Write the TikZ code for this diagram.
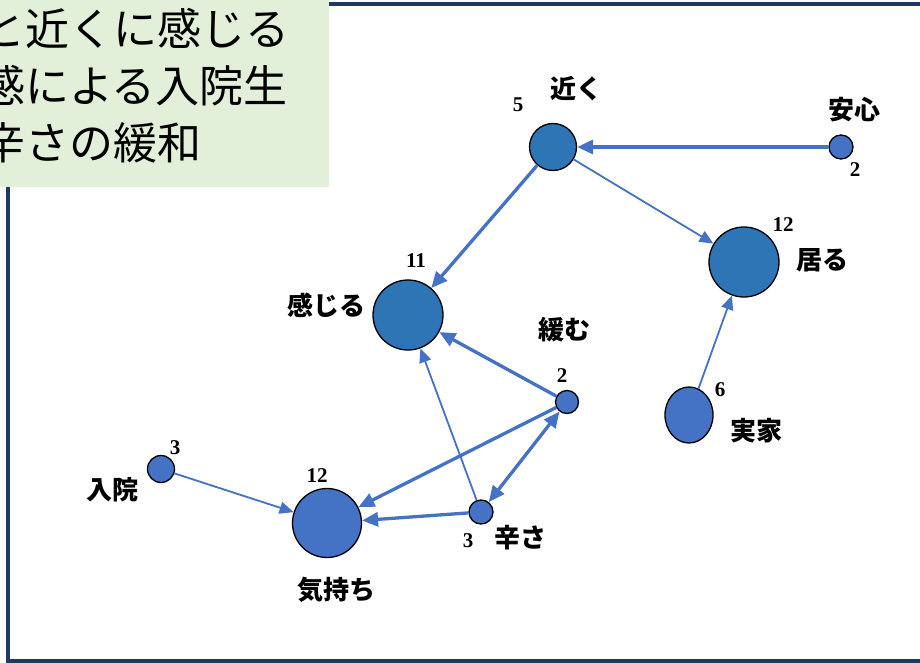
\documentclass[tikz,border=0pt]{standalone}
\usepackage{fontspec}
\setmainfont{Liberation Serif}
\newfontfamily\jp{Noto Sans CJK JP}
\usetikzlibrary{arrows.meta,shapes.geometric}
\definecolor{edgeblue}{HTML}{4472C4}
\definecolor{darkblue}{HTML}{2E75B6}
\definecolor{lightblue}{HTML}{4472C4}
\definecolor{boxgreen}{HTML}{E2EFD9}
\definecolor{framenavy}{HTML}{203864}
\begin{document}
\begin{tikzpicture}[x=1pt,y=-1pt,
  vnode/.style={circle, draw=black, line width=1.3pt, inner sep=0pt},
  bignode/.style={vnode, fill=darkblue, minimum size=70pt},
  midnode/.style={vnode, fill=darkblue, minimum size=47pt},
  bigl/.style={vnode, fill=lightblue, minimum size=69pt},
  smallnode/.style={vnode, fill=lightblue, minimum size=24pt},
  lbl/.style={font=\jp\bfseries\fontsize{26}{26}\selectfont, inner sep=0pt},
  num/.style={font=\bfseries\fontsize{21}{21}\selectfont, inner sep=0pt},
  boxtext/.style={font=\jp\fontsize{44}{44}\selectfont, inner sep=0pt, anchor=base west},
  thickedge/.style={draw=edgeblue, line width=3.3pt, -{Triangle[length=16pt,width=14pt]}},
  thinedge/.style={draw=edgeblue, line width=1.8pt, -{Triangle[length=14pt,width=12pt]}},
]
\useasboundingbox (0,0) rectangle (920,663);
\clip (0,0) rectangle (920,663);
\fill[white] (0,0) rectangle (920,663);
% frame
\draw[framenavy, line width=3.2pt] (8,4) rectangle (940,661);
% green box
\fill[boxgreen] (0,0) rectangle (329,187);
\node[boxtext] (t1) at (-19,46) {と近くに感じる};
\node[boxtext] (t2) at (-19,103) {感による入院生};
\node[boxtext] (t3) at (-19,160) {辛さの緩和};

% nodes
\node[midnode] (chikaku) at (553,147) {};
\node[smallnode, minimum size=24pt] (anshin) at (841,147) {};
\node[bignode] (iru) at (744,262) {};
\node[bignode] (kanjiru) at (408,315) {};
\node[smallnode, minimum size=23pt] (yurumu) at (567,402) {};
\node[ellipse, draw=black, line width=1.3pt, fill=lightblue, minimum width=48pt, minimum height=56pt, inner sep=0pt] (jikka) at (689,415) {};
\node[smallnode, minimum size=27pt] (nyuin) at (161,469) {};
\node[bigl] (kimochi) at (327,523) {};
\node[smallnode, minimum size=24pt] (tsurasa) at (481,512) {};

% labels
\node[lbl] (lchikaku) at (576,89) {近く};
\node[num] (nchikaku) at (518,105) {5};
\node[lbl] (lanshin) at (854,110) {安心};
\node[num] (nanshin) at (855,170) {2};
\node[num] (niru) at (783,225) {12};
\node[lbl] (liru) at (822,260) {居る};
\node[num] (nkanjiru) at (416,261) {11};
\node[lbl] (lkanjiru) at (326,305) {感じる};
\node[lbl] (lyurumu) at (564,330) {緩む};
\node[num] (nyurumu) at (562,376) {2};
\node[num] (njikka) at (720,390) {6};
\node[lbl] (ljikka) at (756,431) {実家};
\node[num] (nnyuin) at (175,448) {3};
\node[lbl] (lnyuin) at (112,490) {入院};
\node[num] (nkimochi) at (317,476) {12};
\node[lbl] (lkimochi) at (336,590) {気持ち};
\node[num] (ntsurasa) at (468,541) {3};
\node[lbl] (ltsurasa) at (520,538) {辛さ};

% edges
\draw[thickedge] (anshin) -- (chikaku);
\draw[thickedge] (chikaku) -- (kanjiru);
\draw[thinedge] (chikaku) -- (iru);
\draw[thinedge] (jikka) -- (iru);
\draw[thickedge] (yurumu) -- (kanjiru);
\draw[thinedge] (tsurasa) -- (kanjiru);
\draw[thickedge, {Triangle[length=16pt,width=14pt]}-{Triangle[length=16pt,width=14pt]}] (tsurasa) -- (yurumu);
\draw[thickedge] (yurumu) -- (kimochi);
\draw[thickedge] (tsurasa) -- (kimochi);
\draw[thinedge] (nyuin) -- (kimochi);
\end{tikzpicture}
\end{document}
